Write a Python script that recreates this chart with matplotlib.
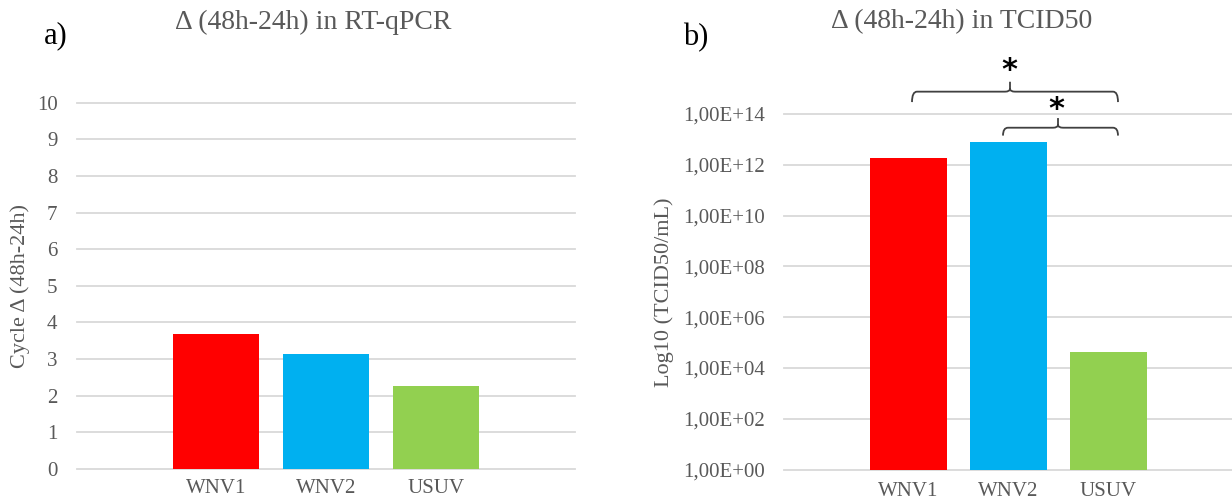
import matplotlib
matplotlib.use("Agg")
import matplotlib.pyplot as plt
import numpy as np
from matplotlib.path import Path
from matplotlib.patches import PathPatch

viruses = ["WNV1", "WNV2", "USUV"]
bar_colors = ["#FF0000", "#00B0F0", "#92D050"]
cycle_delta = [3.68, 3.14, 2.27]
tcid50_delta = [1.8e12, 7.7e12, 4.1e4]
log_ticks = [1e0, 1e2, 1e4, 1e6, 1e8, 1e10, 1e12, 1e14]
log_tick_labels = ["1,00E+00", "1,00E+02", "1,00E+04", "1,00E+06",
                   "1,00E+08", "1,00E+10", "1,00E+12", "1,00E+14"]

plt.rcParams["font.family"] = ["Liberation Serif", "DejaVu Serif"]
GREY = "#595959"
GRID = "#D9D9D9"

fig = plt.figure(figsize=(12.32, 4.97), dpi=100)
ax1 = fig.add_axes([77 / 1232, 1 - 469 / 497, 498 / 1232, 366.3 / 497])
ax2 = fig.add_axes([784 / 1232, 1 - 469.5 / 497, 448 / 1232, 355.5 / 497])


def style_axis(ax, xpad=7):
    for s in ax.spines.values():
        s.set_visible(False)
    ax.tick_params(axis="both", length=0, labelsize=15, colors=GREY)
    ax.tick_params(axis="y", pad=14)
    ax.tick_params(axis="x", pad=xpad)
    ax.grid(axis="y", color=GRID, linewidth=1.3)
    ax.set_axisbelow(True)
    for gl in ax.get_ygridlines():
        gl.set_clip_on(False)


x = np.arange(len(viruses))

# a) RT-qPCR cycle difference
ax1.bar(x, cycle_delta, width=0.78, color=bar_colors)
ax1.set_xlim(-1.264, 3.264)
ax1.set_ylim(0, 10)
ax1.set_yticks(range(0, 11))
ax1.set_xticks(x)
ax1.set_xticklabels(viruses)
style_axis(ax1, xpad=7)
ax1.set_ylabel("Cycle Δ (48h-24h)", fontsize=16, color=GREY, labelpad=5)

# b) TCID50 difference on log scale
ax2.bar(x, tcid50_delta, width=0.77, color=bar_colors, bottom=0)
ax2.set_yscale("log")
ax2.set_xlim(-1.24, 3.24)
ax2.set_ylim(1, 1e14)
ax2.set_yticks(log_ticks)
ax2.set_yticklabels(log_tick_labels)
ax2.minorticks_off()
ax2.set_xticks(x)
ax2.set_xticklabels(viruses)
style_axis(ax2, xpad=9)
ax2.set_ylabel("Log10 (TCID50/mL)", fontsize=16, color=GREY, labelpad=6)

fig.text(313 / 1232, 1 - 22 / 497, "Δ (48h-24h) in RT-qPCR", fontsize=20,
         color=GREY, ha="center", va="center")
fig.text(962 / 1232, 1 - 22 / 497, "Δ (48h-24h) in TCID50", fontsize=20,
         color=GREY, ha="center", va="center")
fig.text(44 / 1232, 1 - 36 / 497, "a)", fontsize=22, color="black",
         ha="left", va="center")
fig.text(683 / 1232, 1 - 38 / 497, "b)", fontsize=22, color="black",
         ha="left", va="center")


def bracket(ax, x0, x1, xm, y_line, y_end, y_tip, r=0.05, k=0.12):
    """Curly significance bracket; y values given as log10 exponents."""
    Y = lambda e: 10 ** e
    verts = [(x0, Y(y_end)), (x0, Y(y_line)), (x0 + r, Y(y_line)),
             (xm - r, Y(y_line)), (xm, Y(y_line)), (xm, Y(y_line + k)),
             (xm, Y(y_tip)),
             (x1, Y(y_end)), (x1, Y(y_line)), (x1 - r, Y(y_line)),
             (xm + r, Y(y_line)), (xm, Y(y_line)), (xm, Y(y_line + k))]
    codes = [Path.MOVETO, Path.CURVE3, Path.CURVE3,
             Path.LINETO, Path.CURVE3, Path.CURVE3,
             Path.LINETO,
             Path.MOVETO, Path.CURVE3, Path.CURVE3,
             Path.LINETO, Path.CURVE3, Path.CURVE3]
    ax.add_patch(PathPatch(Path(verts, codes), fill=False, edgecolor="#404040",
                           linewidth=1.3, clip_on=False))


bracket(ax2, 0.04, 2.10, 1.02, 14.88, 14.47, 15.27)
bracket(ax2, 0.95, 2.10, 1.50, 13.46, 13.15, 13.84)
ax2.text(1.01, 10 ** 15.72, "*", fontsize=22, fontweight="bold",
         family="DejaVu Sans", ha="center", va="center", clip_on=False)
ax2.text(1.48, 10 ** 14.18, "*", fontsize=22, fontweight="bold",
         family="DejaVu Sans", ha="center", va="center", clip_on=False)

fig.savefig("out.png", dpi=100)
